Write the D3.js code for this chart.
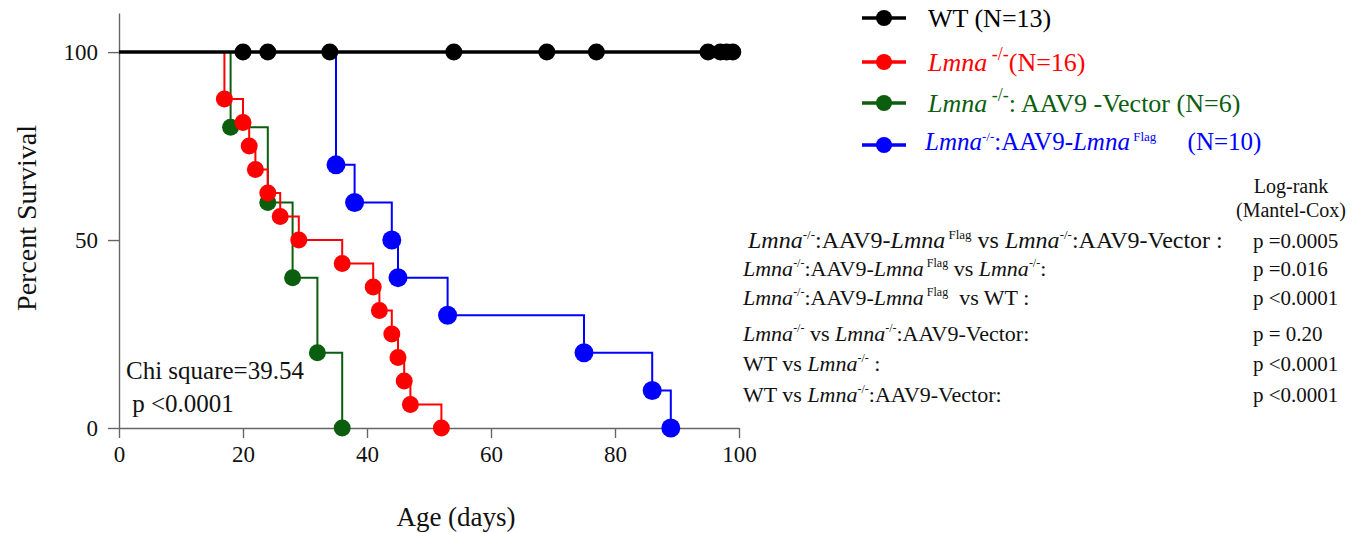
<!DOCTYPE html>
<html lang="en">
<head>
  <meta charset="UTF-8">
  <title>Survival curves</title>
  <script src="https://d3js.org/d3.v7.min.js"></script>
  <style>
    body {
      margin: 0;
      background: white;
    }
    svg text, svg tspan {
      font-family: "Liberation Serif", serif;
      white-space: pre;
    }
  </style>
</head>
<body>
  <div id="chart"></div>

  <script>
    const SERIF = "Liberation Serif";

    // axis ticks
    const xTicks = [0, 20, 40, 60, 80, 100];
    const yTicks = [0, 50, 100];

    // WT: nobody died, censored marks only
    const wtCensored = [20, 24, 34, 54, 69, 77, 95, 97, 98, 99];
    const wtLastDay = 99;

    // Lmna -/- (N=16)
    const koDays = [17, 20, 21, 22, 24, 26, 29, 36, 41, 42, 44, 45, 46, 47, 52];
    const koSurv = [87.5, 81.25, 75, 68.75, 62.5, 56.25, 50, 43.75, 37.5, 31.25, 25, 18.75, 12.5, 6.25, 0];

    // Lmna -/- : AAV9-Vector
    const vecDays = [18, 24, 28, 32, 36];
    const vecSurv = [80, 60, 40, 20, 0];

    // Lmna -/- : AAV9-Lmna Flag
    const flagDays = [35, 38, 44, 45, 53, 75, 86, 89];
    const flagSurv = [70, 60, 50, 40, 30, 20, 10, 0];

    // legend + stats text, segments: n = normal, i = italic, s = superscript
    const legendRows = [
      [["WT (N=13)", "n"]],
      [["Lmna", "i"], [" -/-", "s"], ["(N=16)", "n"]],
      [["Lmna", "i"], [" -/-", "s"], [": AAV9 -Vector (N=6)", "n"]],
      [["Lmna", "i"], ["-/-", "s"], [":AAV9-", "n"], ["Lmna", "i"], [" Flag", "s"], ["     (N=10)", "n"]]
    ];
    const compareRows = [
      [["Lmna", "i"], ["-/-", "s"], [":AAV9-", "n"], ["Lmna", "i"], [" Flag", "s"], [" vs ", "n"], ["Lmna", "i"], ["-/-", "s"], [":AAV9-Vector :", "n"]],
      [["Lmna", "i"], ["-/-", "s"], [":AAV9-", "n"], ["Lmna", "i"], [" Flag", "s"], [" vs ", "n"], ["Lmna", "i"], ["-/-", "s"], [":", "n"]],
      [["Lmna", "i"], ["-/-", "s"], [":AAV9-", "n"], ["Lmna", "i"], [" Flag", "s"], ["  vs WT :", "n"]],
      [["Lmna", "i"], ["-/-", "s"], [" vs ", "n"], ["Lmna", "i"], ["-/-", "s"], [":AAV9-Vector:", "n"]],
      [["WT vs ", "n"], ["Lmna", "i"], ["-/-", "s"], [" :", "n"]],
      [["WT vs ", "n"], ["Lmna", "i"], ["-/-", "s"], [":AAV9-Vector:", "n"]]
    ];
    const pValues = ["p =0.0005", "p =0.016", "p <0.0001", "p = 0.20", "p <0.0001", "p <0.0001"];

    const width = 1359, height = 533;

    const svg = d3.select("#chart").append("svg")
      .attr("width", width)
      .attr("height", height)
      .attr("font-family", SERIF);

    const x = d3.scaleLinear().domain([0, 100]).range([119, 739]);
    const y = d3.scaleLinear().domain([0, 110.4]).range([428, 13]);

    // axes
    const xAxis = svg.append("g")
      .attr("transform", `translate(0,${y(0)})`)
      .call(d3.axisBottom(x).tickValues(xTicks).tickSize(10).tickSizeOuter(0));
    const yAxis = svg.append("g")
      .attr("transform", `translate(${x(0)},0)`)
      .call(d3.axisLeft(y).tickValues(yTicks).tickSize(11).tickSizeOuter(0));

    [xAxis, yAxis].forEach(g => {
      g.attr("font-family", SERIF).attr("font-size", 23);
      g.selectAll("path, line").attr("stroke", "#666").attr("stroke-width", 1.4);
      g.selectAll("text").attr("fill", "#111");
    });
    xAxis.selectAll("text").attr("dy", "0.95em").attr("y", 12);
    yAxis.selectAll("text").attr("x", -21);

    svg.append("text")
      .attr("x", 456)
      .attr("y", 526)
      .attr("text-anchor", "middle")
      .attr("font-size", 27)
      .attr("fill", "#111")
      .text("Age (days)");

    svg.append("text")
      .attr("transform", `translate(36,${218}) rotate(-90)`)
      .attr("text-anchor", "middle")
      .attr("font-size", 28)
      .attr("fill", "#111")
      .text("Percent Survival");

    // KM step curves
    const step = d3.line()
      .x(d => x(d[0]))
      .y(d => y(d[1]))
      .curve(d3.curveStepAfter);

    const groups = [
      { days: vecDays, surv: vecSurv, color: "#0b5e0e", r: 8.5 },
      { days: koDays, surv: koSurv, color: "#ff0000", r: 8.5 },
      { days: flagDays, surv: flagSurv, color: "#0000ff", r: 9.5 }
    ];

    groups.forEach(s => {
      const pts = [[0, 100]].concat(s.days.map((d, i) => [d, s.surv[i]]));
      svg.append("path")
        .attr("d", step(pts))
        .attr("fill", "none")
        .attr("stroke", s.color)
        .attr("stroke-width", 2);
      svg.append("g").selectAll("circle")
        .data(pts.slice(1))
        .join("circle")
        .attr("cx", d => x(d[0]))
        .attr("cy", d => y(d[1]))
        .attr("r", s.r)
        .attr("fill", s.color);
    });

    // WT on top
    svg.append("line")
      .attr("x1", x(0)).attr("x2", x(wtLastDay))
      .attr("y1", y(100)).attr("y2", y(100))
      .attr("stroke", "#000")
      .attr("stroke-width", 3.5);
    svg.append("g").selectAll("circle")
      .data(wtCensored)
      .join("circle")
      .attr("cx", d => x(d))
      .attr("cy", y(100))
      .attr("r", 8.5)
      .attr("fill", "#000");

    // rich text helper for italics / superscripts
    function richText(g, px, py, segs, size, supSize, fill, supShift) {
      const t = g.append("text")
        .attr("x", px).attr("y", py)
        .attr("font-family", SERIF)
        .attr("font-size", size)
        .attr("fill", fill);
      let raised = false;
      segs.forEach(([txt, kind]) => {
        const ts = t.append("tspan").attr("font-family", SERIF).text(txt);
        if (kind === "s") {
          ts.attr("font-size", supSize).attr("dy", -supShift);
          raised = true;
        } else {
          if (raised) { ts.attr("dy", supShift); raised = false; }
          if (kind === "i") ts.attr("font-style", "italic");
        }
      });
      return t;
    }

    // legend
    const legendColors = ["#000", "#ff0000", "#0b5e0e", "#0000ff"];
    const legendY = [18, 62, 103, 145];
    const legend = svg.append("g");
    legendRows.forEach((segs, i) => {
      legend.append("line")
        .attr("x1", 862).attr("x2", 906)
        .attr("y1", legendY[i]).attr("y2", legendY[i])
        .attr("stroke", legendColors[i])
        .attr("stroke-width", 3.5);
      legend.append("circle")
        .attr("cx", 884).attr("cy", legendY[i])
        .attr("r", 8)
        .attr("fill", legendColors[i]);
      const last = i === 3;
      richText(legend, last ? 925 : 928, legendY[i] + (last ? 5 : 9), segs,
        last ? 25 : 26, last ? 13 : 18, legendColors[i], last ? 9 : 11);
    });

    // comparisons (first row is set a little larger, as in the figure)
    const statsY = [248, 276, 305, 341, 371, 402];
    const stats = svg.append("g");
    compareRows.forEach((segs, i) => {
      richText(stats, i === 0 ? 748 : 743, statsY[i], segs, i === 0 ? 24 : 22, i === 0 ? 13 : 12, "#111", 9);
      stats.append("text")
        .attr("x", 1253).attr("y", statsY[i])
        .attr("font-size", 21)
        .attr("fill", "#111")
        .text(pValues[i]);
    });
    stats.append("text")
      .attr("x", 1291).attr("y", 193)
      .attr("text-anchor", "middle")
      .attr("font-size", 20)
      .attr("fill", "#111")
      .text("Log-rank");
    stats.append("text")
      .attr("x", 1291).attr("y", 217)
      .attr("text-anchor", "middle")
      .attr("font-size", 20)
      .attr("fill", "#111")
      .text("(Mantel-Cox)");

    // chi square note
    svg.append("text")
      .attr("x", 126).attr("y", 379)
      .attr("font-size", 25)
      .attr("fill", "#111")
      .text("Chi square=39.54");
    svg.append("text")
      .attr("x", 126).attr("y", 412)
      .attr("font-size", 25)
      .attr("fill", "#111")
      .text(" p <0.0001");
  </script>
</body>
</html>
